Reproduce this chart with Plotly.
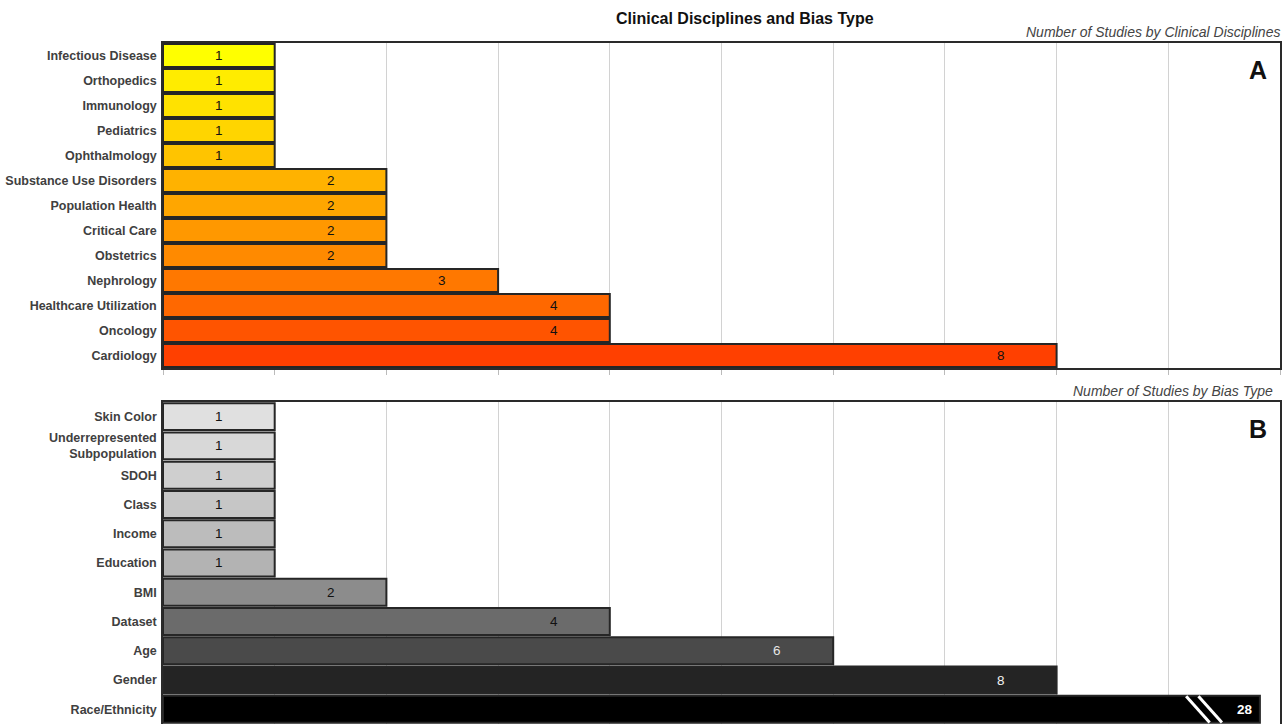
import plotly.graph_objects as go

# ---------------- data ----------------
disciplines = ["Infectious Disease", "Orthopedics", "Immunology", "Pediatrics", "Ophthalmology",
               "Substance Use Disorders", "Population Health", "Critical Care", "Obstetrics",
               "Nephrology", "Healthcare Utilization", "Oncology", "Cardiology"]
discipline_counts = [1, 1, 1, 1, 1, 2, 2, 2, 2, 3, 4, 4, 8]
discipline_colors = ["#FFFF00", "#FFEC00", "#FFE200", "#FFD500", "#FFC400", "#FFB200", "#FFA600",
                     "#FF9800", "#FF8A00", "#FF7800", "#FF6800", "#FF5400", "#FF4000"]

bias_types = ["Skin Color", "Underrepresented<br>Subpopulation", "SDOH", "Class", "Income",
              "Education", "BMI", "Dataset", "Age", "Gender", "Race/Ethnicity"]
bias_counts = [1, 1, 1, 1, 1, 1, 2, 4, 6, 8, 28]
bias_colors = ["#E0E0E0", "#D8D8D8", "#CFCFCF", "#C6C6C6", "#BCBCBC", "#B3B3B3",
               "#8C8C8C", "#6B6B6B", "#4A4A4A", "#242424", "#000000"]
bias_label_colors = ["#111", "#111", "#111", "#111", "#111", "#111", "#111", "#111",
                     "#E6E6E6", "#F2F2F2", "#FFFFFF"]

AXIS_MAX = 10
BREAK_CAP = 9.82   # display length of the broken (off-scale) bar

FONT = "Liberation Sans, Arial, Helvetica, sans-serif"

W, H = 1283, 730
ML, MR, MT, MB = 163, 3, 43, 0
pw, ph = W - ML - MR, H - MT - MB

fig = go.Figure()

# Panel A
fig.add_trace(go.Bar(
    x=discipline_counts, y=disciplines, orientation="h",
    marker=dict(color=discipline_colors, line=dict(color="#262626", width=2)),
    xaxis="x", yaxis="y", hoverinfo="x+y", showlegend=False))

# Panel B (cap the off-scale bar)
bias_display = [min(v, BREAK_CAP) for v in bias_counts]
fig.add_trace(go.Bar(
    x=bias_display, y=bias_types, orientation="h",
    marker=dict(color=bias_colors, line=dict(color="#262626", width=2)),
    xaxis="x2", yaxis="y2", customdata=bias_counts,
    hovertemplate="%{y}: %{customdata}<extra></extra>", showlegend=False))

annotations = []
for cat, v in zip(disciplines, discipline_counts):
    annotations.append(dict(x=v - 0.5, y=cat, xref="x", yref="y", text=str(v), showarrow=False,
                            font=dict(family=FONT, size=13.5, color="#111")))
for cat, v, d, c in zip(bias_types, bias_counts, bias_display, bias_label_colors):
    broken = v > d
    annotations.append(dict(x=d - (0.13 if broken else 0.5), y=cat, xref="x2", yref="y2",
                            text=f"<b>{v}</b>" if broken else str(v), showarrow=False,
                            font=dict(family=FONT, size=13.5, color=c)))
    if broken:
        idx = bias_types.index(cat)
        for off in (0.66, 0.55):
            fig.add_shape(type="line", xref="x2", yref="y2",
                          x0=d - off, y0=idx - 0.45, x1=d - off + 0.21, y1=idx + 0.45,
                          line=dict(color="white", width=3))

# title / subtitles / panel letters
annotations += [
    dict(x=(745 - ML) / pw, y=1 + (MT - 18) / ph, xref="paper", yref="paper",
         text="<b>Clinical Disciplines and Bias Type</b>",
         showarrow=False, font=dict(family=FONT, size=16, color="#111"),
         xanchor="center", yanchor="middle"),
    dict(x=1, y=1, xref="x domain", yref="y domain", text="<i>Number of Studies by Clinical Disciplines</i>",
         showarrow=False, xanchor="right", yanchor="bottom", yshift=1, xshift=2,
         font=dict(family=FONT, size=14, color="#444")),
    dict(x=1, y=1, xref="x2 domain", yref="y2 domain", text="<i>Number of Studies by Bias Type</i>",
         showarrow=False, xanchor="right", yanchor="bottom", yshift=1, xshift=-5,
         font=dict(family=FONT, size=14, color="#444")),
    dict(x=0.99, y=0.965, xref="x domain", yref="y domain", text="<b>A</b>", showarrow=False,
         xanchor="right", yanchor="top", font=dict(family=FONT, size=25, color="#111")),
    dict(x=0.99, y=0.965, xref="x2 domain", yref="y2 domain", text="<b>B</b>", showarrow=False,
         xanchor="right", yanchor="top", font=dict(family=FONT, size=25, color="#111")),
]

xaxis_common = dict(range=[0, AXIS_MAX], dtick=1, showticklabels=False, showgrid=True,
                    gridcolor="#D2D2D2", gridwidth=1.3, zeroline=False,
                    showline=True, mirror=True, linecolor="#2a2a2a", linewidth=1.5,
                    ticks="outside", ticklen=5, tickcolor="#BBBBBB", fixedrange=True)
yaxis_common = dict(autorange="reversed", showline=True, mirror=True, linecolor="#2a2a2a",
                    linewidth=1.5, ticks="", showgrid=False, fixedrange=True,
                    tickfont=dict(family=FONT, size=12.5, color="#404040", weight="bold"),
                    ticklabelstandoff=2)

def frac(px):
    return (H - MB - px) / ph

fig.update_layout(
    width=W, height=H, margin=dict(l=ML, r=MR, t=MT, b=MB),
    plot_bgcolor="white", paper_bgcolor="white", bargap=0.08,
    xaxis=dict(domain=[0, 1], anchor="y", **xaxis_common),
    yaxis=dict(domain=[frac(368), 1], anchor="x", **yaxis_common),
    xaxis2=dict(domain=[0, 1], anchor="y2", **xaxis_common),
    yaxis2=dict(domain=[frac(724), frac(402)], anchor="x2", **yaxis_common),
    annotations=annotations,
    font=dict(family=FONT),
)

fig.write_html("out.html", config={"displayModeBar": False},
               post_script="document.body.style.margin='0';document.body.style.overflow='hidden';")
